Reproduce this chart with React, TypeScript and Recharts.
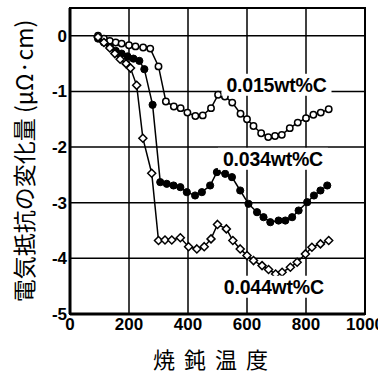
import React from 'react';
import { LineChart, Line, XAxis, YAxis, CartesianGrid, ReferenceArea, ReferenceDot, Label } from 'recharts';

// annealing temperature (x) vs change of electrical resistivity (y)
const temp015 = [95, 115, 135, 155, 175, 200, 222, 248, 272, 300, 325, 352, 375, 398, 425, 450, 478, 502, 525, 550, 578, 600, 622, 648, 672, 695, 718, 745, 772, 800, 825, 850, 877];
const res015 = [0, -0.05, -0.09, -0.12, -0.14, -0.17, -0.19, -0.21, -0.23, -0.55, -1.18, -1.27, -1.3, -1.38, -1.44, -1.43, -1.3, -1.06, -1.09, -1.2, -1.4, -1.5, -1.62, -1.75, -1.82, -1.8, -1.78, -1.66, -1.56, -1.48, -1.42, -1.38, -1.32];

const temp034 = [95, 115, 135, 155, 175, 195, 215, 235, 252, 280, 306, 328, 351, 374, 396, 424, 447, 475, 498, 526, 549, 577, 605, 634, 656, 679, 707, 730, 753, 775, 804, 827, 849, 872];
const res034 = [-0.05, -0.12, -0.2, -0.27, -0.32, -0.37, -0.41, -0.45, -0.6, -1.24, -2.63, -2.66, -2.69, -2.72, -2.81, -2.87, -2.81, -2.69, -2.45, -2.48, -2.54, -2.78, -3.02, -3.17, -3.26, -3.35, -3.32, -3.32, -3.26, -3.14, -2.99, -2.87, -2.78, -2.69];

const temp044 = [95, 115, 135, 152, 170, 190, 205, 226, 247, 277, 300, 322, 345, 374, 402, 430, 455, 478, 500, 530, 552, 577, 600, 622, 651, 673, 697, 719, 747, 770, 798, 820, 849, 877];
const res044 = [-0.02, -0.12, -0.22, -0.32, -0.42, -0.5, -0.58, -0.89, -1.84, -2.47, -3.68, -3.67, -3.67, -3.63, -3.79, -3.83, -3.79, -3.65, -3.39, -3.47, -3.68, -3.83, -3.95, -4.04, -4.13, -4.2, -4.28, -4.25, -4.16, -4.07, -3.92, -3.8, -3.74, -3.68];

const xTicks = [0, 200, 400, 600, 800, 1000];
const xMinorTicks = [100, 300, 500, 700, 900];
const yTicks = [-5, -4, -3, -2, -1, 0];

const seriesNames = ['0.015wt%C', '0.034wt%C', '0.044wt%C'];
// where each series name sits, in data units
const nameAnchors = [
  { x: 700, y: -0.88 },
  { x: 688, y: -2.21 },
  { x: 691, y: -4.51 },
];

const toPoints = (t: number[], r: number[]) => t.map((temp, i) => ({ temp, value: r[i] }));

const tickFont = { fontFamily: 'Liberation Sans', fontWeight: 'bold', fontSize: 17, fill: '#000' };

const OpenCircle = (props: any) => {
  const { cx, cy, index } = props;
  if (cx == null || cy == null) return null;
  return <circle key={`o-${index}`} cx={cx} cy={cy} r={3.2} fill="#fff" stroke="#000" strokeWidth={1.5} />;
};

const FilledCircle = (props: any) => {
  const { cx, cy, index } = props;
  if (cx == null || cy == null) return null;
  return <circle key={`f-${index}`} cx={cx} cy={cy} r={3.6} fill="#000" stroke="#000" strokeWidth={1} />;
};

const Diamond = (props: any) => {
  const { cx, cy, index } = props;
  if (cx == null || cy == null) return null;
  const s = 4;
  return (
    <polygon
      key={`d-${index}`}
      points={`${cx},${cy - s} ${cx + s},${cy} ${cx},${cy + s} ${cx - s},${cy}`}
      fill="#fff"
      stroke="#000"
      strokeWidth={1.5}
    />
  );
};

const SeriesTag = ({ viewBox, text }: any) => {
  if (!viewBox) return null;
  const cx = viewBox.x + viewBox.width / 2;
  const cy = viewBox.y + viewBox.height / 2;
  return (
    <g>
      <rect x={cx - 55} y={cy - 11} width={110} height={22} fill="#fff" />
      <text
        x={cx}
        y={cy}
        dy="0.36em"
        textAnchor="middle"
        fontFamily="Liberation Sans"
        fontWeight="bold"
        fontSize={19.5}
        letterSpacing={-0.2}
        fill="#000"
      >
        {text}
      </text>
    </g>
  );
};

export default function App() {
  return (
    <div style={{ position: 'absolute', left: 0, top: 0, background: '#fff' }}>
      <LineChart width={378} height={374} margin={{ top: 8, right: 13, bottom: 0, left: 0 }}>
        <CartesianGrid stroke="#000" strokeWidth={1.5} />
        <XAxis
          dataKey="temp"
          type="number"
          domain={[0, 1000]}
          ticks={xTicks}
          interval={0}
          height={60}
          tickLine={false}
          tickSize={0}
          tickMargin={4}
          tick={tickFont}
          axisLine={{ stroke: '#000', strokeWidth: 3 }}
        >
          <Label
            value="焼 鈍 温 度"
            position="insideBottom"
            offset={6}
            dx={-6}
            style={{ fontFamily: 'Noto Sans CJK JP', fontSize: 22, fill: '#000', letterSpacing: 2 }}
          />
        </XAxis>
        <XAxis
          xAxisId="minor"
          dataKey="temp"
          type="number"
          domain={[0, 1000]}
          ticks={xMinorTicks}
          mirror
          tick={false}
          tickSize={5}
          axisLine={false}
          tickLine={{ stroke: '#000', strokeWidth: 1.5 }}
        />
        <YAxis
          type="number"
          domain={[-5, 0.5]}
          ticks={yTicks}
          interval={0}
          width={70}
          tickLine={false}
          tickSize={0}
          tickMargin={3}
          tick={tickFont}
          axisLine={{ stroke: '#000', strokeWidth: 3 }}
        >
          <Label
            value="電気抵抗の変化量 (μΩ·cm)"
            position="center"
            angle={-90}
            dx={-10}
            style={{ fontFamily: 'Noto Sans CJK JP', fontSize: 23, fill: '#000' }}
          />
        </YAxis>
        <ReferenceArea x1={0} x2={1000} y1={-5} y2={0.5} fill="none" stroke="#000" strokeWidth={2} />
        <Line
          data={toPoints(temp015, res015)}
          dataKey="value"
          type="linear"
          stroke="#000"
          strokeWidth={1.5}
          dot={OpenCircle}
          isAnimationActive={false}
        />
        <Line
          data={toPoints(temp034, res034)}
          dataKey="value"
          type="linear"
          stroke="#000"
          strokeWidth={1.5}
          dot={FilledCircle}
          isAnimationActive={false}
        />
        <Line
          data={toPoints(temp044, res044)}
          dataKey="value"
          type="linear"
          stroke="#000"
          strokeWidth={1.5}
          dot={Diamond}
          isAnimationActive={false}
        />
        {seriesNames.map((name, i) => (
          <ReferenceDot
            key={name}
            x={nameAnchors[i].x}
            y={nameAnchors[i].y}
            r={1}
            fill="none"
            stroke="none"
            label={(p: any) => <SeriesTag {...p} text={name} />}
          />
        ))}
      </LineChart>
    </div>
  );
}
